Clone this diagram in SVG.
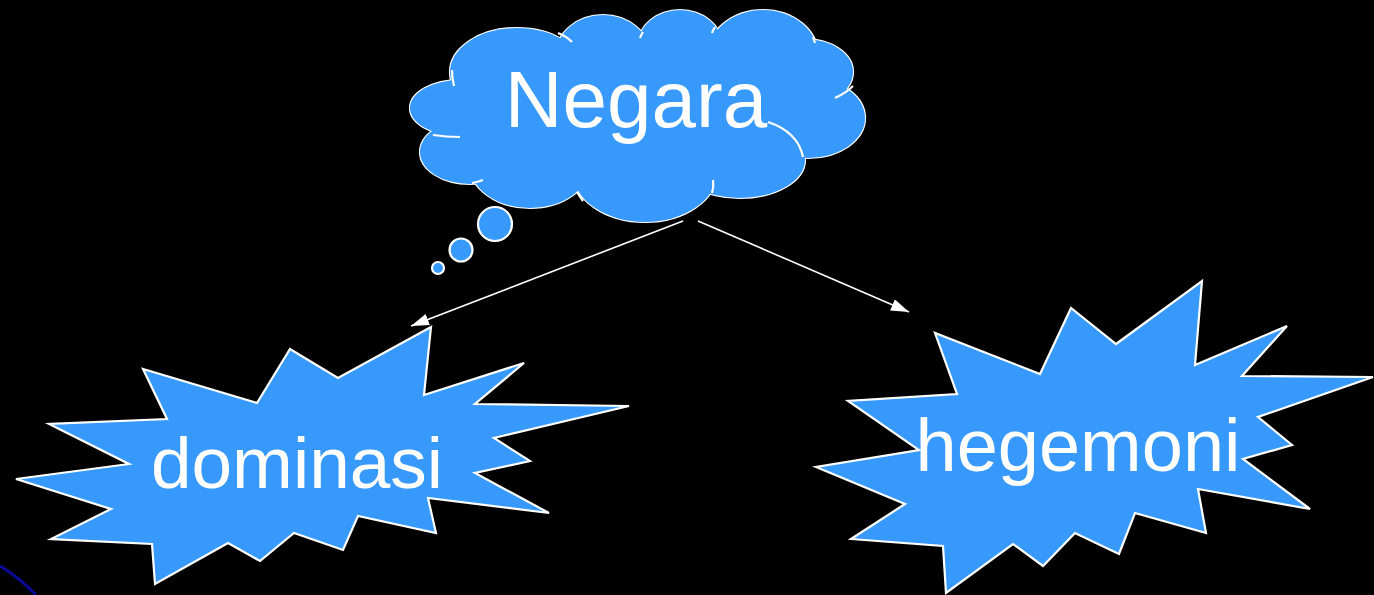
<svg xmlns="http://www.w3.org/2000/svg" width="1374" height="595" viewBox="0 0 1374 595">
<style>
.lobe{fill:#3899fd;stroke:#ffffff;stroke-width:2.2}
.fill{fill:#3899fd;stroke:none}
.inner{fill:none;stroke:#ffffff;stroke-width:2.2}
.star{fill:#3899fd;stroke:#ffffff;stroke-width:2.2;stroke-linejoin:miter}
.lbl{font-family:"Liberation Sans",Arial,sans-serif;fill:#ffffff;text-anchor:middle}
.conn{stroke:#ffffff;stroke-width:1.6;fill:none}
</style>
<defs>
<marker id="arr" markerUnits="userSpaceOnUse" markerWidth="20" markerHeight="14" refX="18" refY="6" orient="auto">
<path d="M0,0 L18,6 L0,12 z" fill="#ffffff"/>
</marker>
<g id="lobes">
<ellipse cx="460" cy="108" rx="50" ry="28"/>
<ellipse cx="517" cy="72" rx="67" ry="44"/>
<ellipse cx="603" cy="55" rx="47" ry="40"/>
<ellipse cx="680" cy="45" rx="42" ry="35"/>
<ellipse cx="763" cy="55" rx="55" ry="45"/>
<ellipse cx="805" cy="72" rx="48" ry="33"/>
<ellipse cx="808" cy="118" rx="57" ry="40"/>
<ellipse cx="740" cy="160" rx="65" ry="38"/>
<ellipse cx="645" cy="172" rx="72" ry="50"/>
<ellipse cx="530" cy="165" rx="60" ry="43"/>
<ellipse cx="470" cy="152" rx="50" ry="32"/>
</g>
</defs>
<rect width="1374" height="595" fill="#000000"/>
<path d="M0,566 Q20,578 36,595" fill="none" stroke="#0a0a9a" stroke-width="3"/>

<g id="negara">
<use href="#lobes" class="lobe"/>
<use href="#lobes" class="fill"/>
<ellipse class="fill" cx="640" cy="112" rx="170" ry="70"/>
<path class="inner" d="M433,135 Q446,137 460,137"/>
<path class="inner" d="M452,70 Q452,78 454,86"/>
<path class="inner" d="M558,33 Q566,36 572,42"/>
<path class="inner" d="M643,32 Q641,35 640,38"/>
<path class="inner" d="M715,27 Q713,30 712,33"/>
<path class="inner" d="M813,37 Q814,40 815,43"/>
<path class="inner" d="M835,98 Q846,93 853,86"/>
<path class="inner" d="M768,122 Q798,132 803,157"/>
<path class="inner" d="M713,180 Q714,187 712,193"/>
<path class="inner" d="M577,192 Q580,197 583,201"/>
<path class="inner" d="M472,183 Q478,182 483,180"/>
<circle class="lobe" cx="495" cy="224" r="17"/>
<circle class="lobe" cx="461" cy="250" r="11.5"/>
<circle class="lobe" cx="438" cy="268" r="6"/>
<text class="lbl" x="636" y="127" font-size="80">Negara</text>
</g>

<g id="dominasi">
<polygon class="star" points="431,327 424,395 524,363 475,404 629,406 494,438 530,461 475,473 549,513 428,498 436,533 358,516 343,550 294,533 260,561 228,543 155,584 152,544 51,539 111,509 16,479 129,464 49,424 167,419 143,369 257,403 290,349 338,378"/>
<text class="lbl" x="297" y="488" font-size="73">dominasi</text>
</g>

<g id="hegemoni">
<polygon class="star" points="1202,281 1195,365 1287,326 1242,376 1373,377 1258,417 1292,445 1243,459 1310,509 1198,489 1206,533 1135,513 1119,554 1075,533 1043,566 1013,544 946,593 943,546 851,539 905,504 816,467 919,450 848,401 957,394 935,333 1040,374 1071,308 1116,344"/>
<text class="lbl" x="1078" y="471" font-size="74">hegemoni</text>
</g>

<g id="connectors">
<line class="conn" x1="683" y1="221" x2="411" y2="326" marker-end="url(#arr)"/>
<line class="conn" x1="698" y1="221" x2="909" y2="312" marker-end="url(#arr)"/>
</g>
</svg>
